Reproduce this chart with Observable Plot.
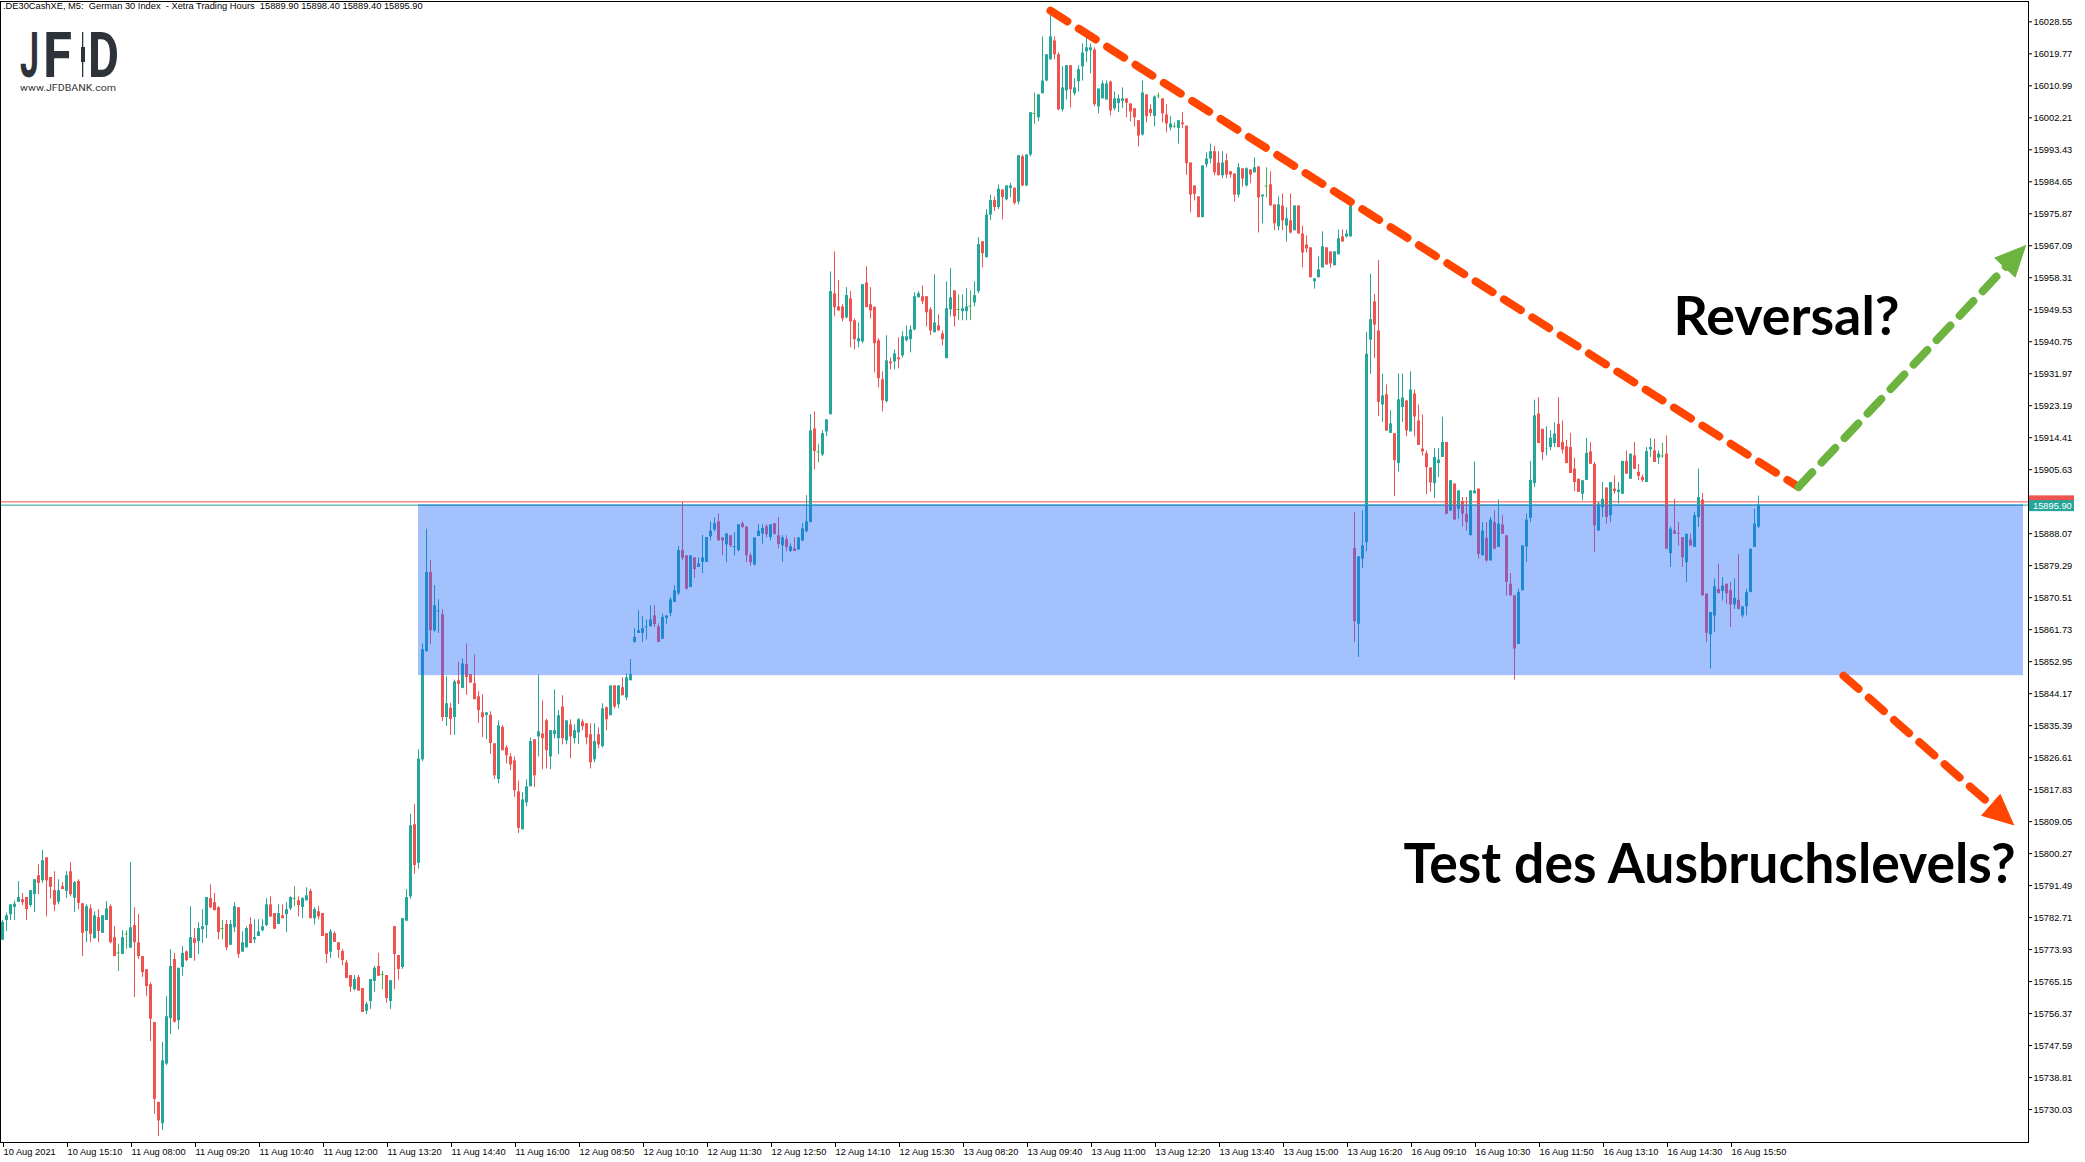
<!DOCTYPE html>
<html><head><meta charset="utf-8">
<script src="https://cdn.jsdelivr.net/npm/d3@7"></script>
<script src="https://cdn.jsdelivr.net/npm/@observablehq/plot@0.6"></script>
<style>
html,body{margin:0;padding:0;background:#fff;}
#wrap{position:relative;width:2085px;height:1162px;overflow:hidden;background:#fff;}
#hdr{position:absolute;left:3px;top:0px;font:9.3px "Liberation Sans",Arial,sans-serif;white-space:pre;color:#000;line-height:12px;}
#logo{position:absolute;left:0;top:0;}
</style></head><body><div id="wrap"></div>
<script>
// ---------- DATA (DE30 M5 candles, bar index 0..439) ----------
const opens = [
15776.5,15781.9,15783.5,15785.5,15786.9,15787.6,15788.2,15786.0,15789.0,15794.2,
15792.8,15799.1,15793.7,15790.1,15786.9,15791.2,15789.9,15795.3,15788.0,15792.6,
15786.5,15778.9,15785.1,15776.9,15782.7,15778.4,15781.9,15785.7,15777.2,15773.0,
15772.6,15778.2,15774.3,15780.5,15775.8,15772.0,15768.4,15764.3,15753.9,15732.0,
15726.1,15742.5,15755.0,15771.2,15754.4,15769.0,15773.3,15771.5,15776.9,15776.1,
15779.4,15780.5,15787.9,15786.8,15785.4,15779.7,15780.8,15775.1,15779.9,15785.4,
15773.2,15774.4,15780.8,15776.6,15777.5,15779.1,15780.5,15786.2,15783.8,15780.8,
15783.2,15783.5,15785.1,15787.9,15787.3,15785.5,15787.3,15789.9,15782.4,15784.3,
15783.8,15778.3,15773.2,15778.3,15775.8,15773.4,15770.3,15766.8,15762.9,15766.2,
15763.2,15757.0,15759.7,15765.2,15769.3,15767.1,15766.8,15759.7,15780.2,15772.3,
15769.0,15781.7,15788.4,15808.2,15797.6,15826.0,15855.7,15877.4,15861.4,15866.9,
15865.8,15837.6,15840.2,15837.6,15847.7,15845.6,15852.1,15849.4,15846.9,15843.3,
15838.9,15838.2,15838.2,15830.4,15820.6,15834.9,15829.3,15826.8,15825.7,15817.2,
15806.8,15814.2,15818.6,15831.5,15832.3,15833.1,15836.7,15826.8,15832.9,15831.8,
15840.5,15831.2,15835.6,15831.8,15833.4,15836.4,15835.9,15832.9,15826.0,15832.9,
15829.6,15840.3,15838.1,15846.3,15841.1,15845.8,15843.0,15847.7,15858.2,15860.7,
15860.7,15862.5,15862.5,15865.5,15862.5,15859.1,15864.8,15866.2,15869.2,15871.6,
15883.4,15882.0,15873.3,15881.4,15878.8,15880.2,15880.2,15887.2,15889.1,15891.3,
15886.9,15885.0,15887.5,15884.5,15883.4,15890.8,15889.9,15882.0,15879.5,15887.3,
15888.0,15890.0,15887.0,15890.8,15887.5,15884.7,15886.4,15883.2,15883.9,15883.6,
15886.1,15888.6,15891.1,15916.8,15910.5,15909.7,15916.0,15920.7,15953.9,15950.3,
15950.3,15947.3,15952.5,15946.5,15940.7,15940.7,15956.9,15950.9,15950.2,15941.0,
15930.3,15924.3,15935.2,15935.2,15936.3,15936.9,15941.0,15941.3,15944.0,15952.8,
15953.1,15953.1,15949.5,15943.2,15945.1,15942.9,15936.1,15949.5,15954.7,15949.6,
15949.0,15949.0,15950.5,15951.4,15954.5,15968.2,15963.8,15975.5,15979.5,15977.6,
15982.4,15979.7,15982.8,15982.9,15979.1,15991.5,15983.5,15992.0,16003.4,16002.2,
16008.8,16012.3,16018.1,16023.3,16019.5,16004.4,16009.6,16016.5,16008.8,16012.1,
16016.2,16020.3,16020.6,16020.8,16005.2,16007.4,16007.1,16012.0,16004.7,16006.1,
16006.7,16007.4,16006.0,16004.7,16001.4,15997.5,16008.5,16004.5,16002.6,16008.2,
16007.4,16003.0,15999.4,15999.9,15999.3,16000.8,15999.9,15989.8,15983.5,15980.5,
15974.8,15989.3,15990.9,15992.9,15989.8,15986.3,15990.4,15987.4,15986.8,15981.0,
15988.2,15983.5,15987.9,15987.1,15988.7,15980.5,15983.5,15983.8,15978.3,15972.3,
15978.0,15972.5,15973.9,15971.2,15978.0,15970.3,15967.3,15966.5,15957.2,15958.3,
15961.0,15966.5,15965.4,15961.6,15964.6,15969.5,15969.5,15969.5,15884.0,15863.2,
15881.1,15885.6,15941.2,15951.7,15943.7,15923.4,15926.2,15915.6,15915.5,15907.3,
15922.7,15924.5,15916.0,15926.4,15919.0,15911.3,15910.0,15906.1,15901.8,15907.3,
15909.0,15913.1,15894.3,15901.7,15894.8,15896.9,15893.4,15887.5,15899.0,15900.3,
15882.0,15886.8,15880.6,15891.1,15884.3,15890.4,15887.5,15874.2,15871.0,15857.7,
15872.4,15884.4,15892.3,15901.8,15920.9,15916.7,15911.2,15911.7,15912.8,15918.1,
15913.1,15911.9,15911.7,15905.8,15903.0,15898.9,15902.7,15910.5,15907.1,15888.8,
15895.2,15900.6,15893.0,15900.3,15899.4,15898.9,15907.9,15903.0,15909.4,15904.9,
15903.5,15902.1,15911.1,15910.8,15908.8,15909.4,15909.9,15882.6,15888.8,15888.1,
15887.0,15880.1,15886.3,15884.3,15892.5,15897.3,15871.5,15860.3,15865.5,15872.8,
15872.2,15874.2,15872.4,15868.5,15869.8,15865.5,15868.0,15871.9,15884.3,15889.9];

const highs = [
15781.9,15783.9,15786.2,15787.2,15792.6,15789.3,15788.2,15790.1,15793.1,15797.2,
15801.1,15799.1,15793.7,15795.3,15793.1,15792.3,15795.3,15797.8,15792.6,15793.1,
15786.5,15786.2,15786.2,15784.3,15784.9,15783.2,15787.1,15786.2,15780.2,15775.4,
15779.1,15779.1,15797.8,15785.4,15783.5,15772.0,15768.4,15764.8,15753.9,15732.0,
15748.5,15761.0,15773.9,15772.9,15768.8,15774.8,15773.6,15785.7,15779.7,15781.3,
15784.9,15788.2,15791.7,15789.3,15785.7,15781.9,15781.9,15781.9,15786.8,15785.4,
15778.8,15780.2,15782.7,15782.1,15782.1,15782.1,15787.9,15788.4,15783.8,15786.2,
15786.2,15786.8,15788.4,15791.2,15788.4,15788.2,15790.9,15790.4,15785.4,15785.7,
15783.8,15778.3,15779.4,15778.8,15775.8,15774.0,15771.0,15766.8,15766.8,15766.8,
15763.2,15759.4,15765.7,15769.3,15772.9,15767.9,15766.8,15765.4,15780.2,15772.3,
15782.4,15790.4,15811.1,15813.7,15828.8,15857.8,15889.3,15880.8,15873.8,15869.9,
15867.2,15848.8,15841.5,15847.9,15852.8,15853.7,15857.8,15849.4,15854.8,15844.7,
15843.8,15838.9,15839.2,15830.4,15836.7,15835.4,15829.9,15827.8,15826.8,15820.2,
15817.0,15820.5,15832.0,15831.5,15849.2,15842.2,15837.1,15834.0,15845.2,15839.5,
15843.6,15836.7,15837.0,15835.6,15837.3,15837.0,15835.9,15835.9,15835.9,15834.8,
15841.4,15840.5,15846.3,15846.3,15846.3,15848.5,15849.6,15853.5,15862.0,15866.9,
15865.3,15864.4,15868.3,15868.3,15863.3,15866.0,15865.5,15870.5,15873.8,15884.5,
15896.6,15882.0,15882.0,15881.4,15881.4,15887.6,15887.0,15891.3,15892.4,15893.5,
15886.9,15888.0,15887.5,15888.3,15890.5,15891.3,15889.9,15882.7,15886.9,15890.5,
15890.5,15890.5,15890.5,15890.8,15892.5,15887.5,15887.5,15885.3,15886.9,15886.9,
15890.8,15898.5,15920.7,15921.5,15912.6,15916.3,15919.3,15959.9,15965.4,15957.5,
15950.9,15955.6,15954.5,15947.0,15945.9,15956.4,15961.3,15955.6,15950.3,15941.6,
15932.5,15942.4,15936.3,15938.5,15941.8,15943.5,15945.1,15945.1,15954.2,15954.5,
15956.1,15953.1,15950.1,15959.1,15948.1,15943.7,15957.2,15960.8,15954.7,15953.6,
15953.6,15955.3,15954.7,15957.2,15969.3,15968.2,15977.0,15981.0,15980.5,15983.8,
15982.4,15983.5,15984.2,15982.9,15991.8,15992.0,15992.0,16003.6,16009.0,16008.5,
16024.4,16019.5,16031.6,16024.4,16020.0,16016.2,16016.5,16016.5,16012.9,16016.5,
16022.5,16024.4,16022.5,16021.4,16010.1,16012.3,16012.3,16012.3,16009.3,16008.5,
16010.4,16007.4,16006.0,16004.7,16001.4,16012.3,16008.5,16005.8,16008.2,16009.0,
16007.4,16005.8,16002.5,16000.8,16001.4,16003.6,15999.9,15989.8,15983.5,15980.5,
15989.0,15992.6,15995.0,15994.4,15992.9,15992.9,15992.3,15987.4,15986.8,15989.6,
15988.2,15988.5,15987.9,15991.2,15988.7,15981.0,15988.5,15987.4,15978.3,15980.5,
15981.3,15977.5,15981.3,15978.0,15978.0,15972.5,15969.8,15966.5,15958.0,15964.0,
15970.9,15966.5,15965.4,15965.4,15971.4,15971.4,15971.4,15978.3,15893.9,15881.7,
15894.3,15943.3,15959.3,15953.8,15963.0,15931.8,15928.9,15921.8,15915.5,15931.9,
15931.9,15924.5,15932.5,15927.5,15923.4,15920.6,15910.8,15906.1,15911.4,15911.4,
15920.0,15913.1,15902.6,15901.7,15899.8,15898.0,15898.0,15899.8,15907.8,15900.3,
15891.1,15891.1,15892.5,15894.3,15897.3,15893.0,15887.5,15877.1,15871.0,15872.8,
15884.7,15893.4,15907.9,15924.7,15925.4,15916.7,15917.4,15916.3,15918.5,15925.4,
15919.0,15913.7,15915.6,15908.8,15903.0,15902.6,15914.2,15913.1,15907.6,15896.6,
15902.1,15900.6,15902.1,15903.9,15902.1,15907.9,15910.8,15909.9,15913.1,15907.1,
15904.2,15911.7,15914.2,15914.0,15910.8,15912.9,15914.9,15889.9,15897.5,15891.1,
15887.0,15887.9,15887.9,15893.9,15905.8,15899.1,15871.5,15866.4,15875.6,15879.7,
15876.0,15874.2,15874.7,15875.6,15882.3,15868.0,15872.8,15883.8,15894.8,15898.4];

const lows = [
15776.4,15778.9,15781.9,15781.9,15786.9,15786.0,15781.9,15785.5,15784.1,15789.0,
15792.1,15782.9,15787.8,15784.3,15786.2,15790.4,15788.0,15788.4,15784.1,15784.9,
15772.0,15775.8,15775.8,15776.9,15775.8,15778.4,15781.9,15775.5,15772.0,15767.9,
15772.6,15774.0,15774.3,15760.8,15771.2,15766.3,15761.1,15748.7,15728.7,15722.6,
15724.3,15742.1,15750.6,15753.7,15751.9,15766.6,15770.6,15771.5,15770.7,15772.5,
15775.6,15776.9,15785.1,15784.6,15776.6,15776.6,15773.7,15775.1,15778.6,15771.5,
15773.2,15774.4,15775.6,15775.6,15777.5,15778.8,15780.2,15782.7,15779.5,15780.8,
15782.4,15778.6,15784.6,15785.7,15782.9,15782.4,15787.3,15782.4,15780.7,15782.1,
15777.5,15770.1,15771.5,15775.9,15771.5,15769.5,15766.0,15762.2,15762.6,15762.5,
15756.7,15756.1,15757.5,15762.2,15766.6,15762.9,15759.2,15757.5,15763.0,15765.5,
15768.5,15781.7,15787.7,15794.6,15796.0,15825.5,15855.5,15857.6,15861.0,15860.7,
15836.5,15835.2,15832.7,15832.7,15841.2,15845.5,15843.7,15846.9,15842.5,15836.0,
15832.1,15831.5,15827.5,15820.6,15819.4,15828.5,15824.9,15823.0,15815.7,15805.8,
15806.8,15813.1,15818.6,15818.4,15826.8,15823.3,15823.5,15823.3,15831.8,15827.4,
15830.1,15830.1,15826.3,15830.4,15830.2,15834.0,15830.1,15823.5,15825.2,15829.0,
15829.3,15834.0,15838.1,15840.0,15840.0,15843.6,15842.2,15847.7,15858.0,15860.7,
15858.2,15858.9,15862.5,15862.3,15858.2,15859.1,15863.2,15865.3,15869.2,15871.1,
15880.6,15872.7,15873.3,15875.8,15878.8,15877.1,15880.2,15886.1,15888.6,15886.1,
15882.0,15880.1,15884.2,15882.0,15883.1,15889.5,15880.1,15879.2,15879.2,15887.3,
15885.0,15886.9,15886.1,15887.7,15883.9,15880.2,15883.1,15882.9,15883.2,15883.4,
15885.8,15888.3,15891.1,15905.6,15907.5,15909.2,15914.7,15920.7,15947.6,15949.2,
15946.2,15947.0,15939.1,15938.5,15939.1,15940.2,15950.1,15947.0,15932.2,15928.1,
15921.5,15924.0,15933.0,15933.0,15933.3,15936.3,15940.7,15937.7,15943.7,15952.8,
15950.9,15944.8,15942.4,15943.2,15943.7,15939.6,15936.1,15947.6,15944.8,15946.5,
15946.5,15946.5,15946.5,15950.3,15953.9,15961.0,15963.8,15974.0,15976.5,15977.0,
15974.2,15979.4,15980.3,15978.3,15978.3,15983.3,15983.3,15991.5,16000.4,16001.1,
16008.8,16012.1,16018.1,16018.1,16004.1,16003.8,16007.1,16004.9,16008.2,16009.3,
16012.3,16017.3,16014.3,16005.2,16003.3,16007.4,16007.1,16002.7,16004.1,16003.6,
16004.7,16002.2,16001.1,15999.7,15994.2,15997.2,16000.8,16002.5,15999.7,16007.4,
16000.8,15998.1,15998.6,15999.2,15995.0,15999.2,15986.4,15976.1,15979.4,15974.8,
15974.8,15988.5,15989.6,15986.3,15986.3,15985.5,15985.5,15985.7,15979.1,15980.2,
15983.2,15983.2,15984.1,15987.1,15970.6,15973.1,15980.2,15978.0,15971.2,15971.2,
15971.2,15968.1,15970.3,15971.2,15970.3,15961.0,15965.1,15958.3,15955.2,15958.3,
15961.0,15961.8,15961.0,15961.6,15964.6,15968.1,15969.2,15969.5,15858.2,15854.1,
15878.5,15883.1,15931.8,15936.1,15920.2,15918.6,15916.2,15915.6,15898.2,15905.0,
15918.6,15914.7,15916.0,15914.6,15912.3,15909.4,15898.8,15899.5,15897.7,15903.5,
15909.0,15893.4,15894.1,15891.8,15892.0,15889.9,15888.8,15887.5,15899.0,15881.1,
15882.0,15880.2,15880.6,15883.8,15884.3,15887.9,15871.0,15871.0,15847.9,15857.7,
15872.4,15880.2,15891.1,15900.7,15912.8,15908.1,15909.4,15910.8,15911.7,15911.7,
15909.9,15907.3,15904.6,15899.6,15899.4,15897.1,15902.7,15907.1,15882.9,15888.8,
15892.5,15890.7,15891.1,15898.9,15896.2,15898.9,15904.4,15903.0,15905.7,15902.6,
15902.1,15902.1,15909.0,15907.6,15907.1,15908.8,15883.8,15878.8,15887.9,15884.7,
15878.8,15874.7,15884.7,15884.3,15889.8,15871.0,15858.2,15850.9,15860.9,15871.6,
15869.6,15868.7,15862.3,15867.3,15867.1,15864.9,15865.5,15871.9,15884.3,15889.4];

const closes = [
15781.4,15783.2,15786.2,15786.4,15788.2,15786.8,15784.9,15790.1,15793.1,15792.1,
15798.3,15792.8,15791.0,15786.1,15790.1,15790.4,15794.2,15789.0,15792.3,15786.6,
15778.4,15785.7,15778.1,15783.2,15778.9,15783.2,15785.1,15775.8,15772.0,15773.0,
15777.2,15778.2,15779.9,15775.8,15772.0,15767.6,15763.8,15754.8,15732.8,15726.9,
15743.4,15755.5,15769.3,15754.0,15768.8,15772.9,15770.9,15777.2,15775.6,15779.7,
15780.2,15788.2,15785.4,15784.6,15778.6,15779.7,15774.4,15780.8,15785.7,15772.6,
15775.8,15779.7,15775.6,15777.2,15778.8,15780.2,15786.2,15782.9,15779.5,15783.8,
15782.4,15784.9,15788.2,15787.9,15786.0,15787.9,15788.7,15782.4,15784.9,15782.9,
15777.5,15772.6,15778.8,15775.9,15773.7,15770.9,15766.0,15763.6,15765.7,15762.5,
15756.7,15758.9,15765.7,15768.8,15766.6,15767.1,15760.5,15765.4,15772.6,15768.5,
15782.4,15788.2,15807.9,15797.0,15826.2,15856.2,15877.4,15861.4,15868.3,15866.9,
15837.6,15841.4,15837.1,15847.4,15846.7,15852.3,15848.6,15847.1,15842.5,15839.5,
15837.6,15838.9,15830.5,15821.6,15835.3,15828.5,15827.1,15824.6,15817.5,15807.2,
15815.0,15818.6,15831.0,15821.6,15833.7,15831.8,15828.5,15834.0,15834.0,15838.1,
15831.8,15836.7,15832.3,15834.0,15837.0,15835.1,15832.0,15825.2,15831.0,15830.1,
15840.0,15837.0,15846.3,15840.5,15846.3,15843.6,15848.5,15849.4,15859.6,15861.4,
15862.0,15862.5,15864.4,15863.1,15858.2,15865.1,15865.5,15869.9,15872.4,15883.4,
15881.3,15872.8,15882.0,15878.2,15879.8,15881.4,15887.0,15888.8,15890.8,15886.1,
15886.1,15888.0,15884.7,15884.5,15890.5,15889.8,15882.0,15880.1,15886.9,15888.8,
15889.5,15887.8,15890.5,15887.9,15885.1,15886.9,15884.3,15884.5,15883.2,15886.9,
15889.4,15891.3,15916.3,15910.6,15910.5,15915.5,15919.3,15954.5,15950.1,15949.2,
15947.0,15953.4,15946.2,15941.3,15941.6,15956.4,15950.1,15949.2,15940.2,15930.6,
15924.5,15935.5,15934.7,15937.4,15935.8,15942.1,15942.1,15944.0,15953.1,15953.9,
15951.7,15948.7,15943.7,15945.9,15943.7,15941.3,15949.8,15952.8,15947.6,15949.6,
15949.8,15950.3,15950.5,15953.4,15967.4,15964.9,15975.5,15979.5,15977.6,15982.6,
15980.3,15983.5,15983.5,15978.7,15991.8,15983.5,15992.0,16003.6,16003.4,16008.5,
16012.3,16019.5,16024.4,16019.5,16004.4,16010.4,16016.5,16009.9,16010.4,16015.4,
16020.0,16021.4,16021.4,16005.8,16010.1,16011.5,16011.5,16004.1,16007.4,16007.4,
16007.4,16006.2,16003.8,16002.2,15997.2,16009.0,16002.5,16003.4,16007.9,16008.2,
16003.3,16000.5,16000.5,15999.9,16001.4,16000.3,15989.6,15981.0,15981.2,15974.8,
15989.0,15990.9,15992.9,15987.1,15986.3,15989.8,15986.5,15986.5,15981.0,15988.5,
15985.4,15988.2,15986.5,15988.5,15980.2,15981.0,15983.5,15978.0,15973.1,15978.3,
15973.9,15974.5,15970.6,15978.0,15970.3,15965.1,15966.2,15958.3,15958.0,15960.5,
15966.8,15961.8,15962.1,15965.4,15969.0,15968.1,15970.3,15978.0,15863.9,15881.7,
15884.7,15937.3,15946.8,15945.3,15924.1,15925.9,15916.2,15918.2,15908.1,15924.8,
15925.3,15916.3,15927.5,15920.1,15912.3,15910.5,15906.2,15902.0,15909.0,15908.3,
15913.1,15893.4,15902.6,15891.8,15899.8,15893.4,15891.1,15899.8,15899.8,15882.4,
15888.8,15880.6,15891.8,15883.8,15890.7,15887.9,15874.7,15871.0,15856.4,15871.9,
15884.7,15891.8,15902.7,15920.4,15912.8,15910.3,15911.3,15914.3,15915.4,15911.7,
15911.0,15907.3,15904.6,15902.1,15899.4,15902.6,15910.1,15907.1,15890.2,15896.2,
15897.5,15892.5,15902.1,15899.6,15900.0,15907.9,15904.4,15909.9,15905.7,15903.8,
15902.6,15910.6,15911.7,15907.6,15909.9,15909.4,15883.8,15889.3,15887.9,15887.9,
15881.5,15887.9,15884.7,15893.0,15898.0,15871.0,15860.7,15866.4,15873.5,15871.6,
15873.7,15871.6,15868.5,15870.3,15867.3,15868.0,15871.9,15883.8,15890.7,15895.9];

// price-axis tick values
const yTicks = [15730.03,15738.81,15747.59,15756.37,15765.15,15773.93,15782.71,15791.49,15800.27,
15809.05,15817.83,15826.61,15835.39,15844.17,15852.95,15861.73,15870.51,15879.29,15888.07,
15905.63,15914.41,15923.19,15931.97,15940.75,15949.53,15958.31,15967.09,15975.87,15984.65,
15993.43,16002.21,16010.99,16019.77,16028.55];
// time-axis ticks (bar index) and labels
const xTickBars = [0,16,32,48,64,80,96,112,128,144,160,176,192,208,224,240,256,272,288,304,320,336,352,368,384,400,416,432];
const xTickLabels = ["10 Aug 2021","10 Aug 15:10","11 Aug 08:00","11 Aug 09:20","11 Aug 10:40","11 Aug 12:00",
"11 Aug 13:20","11 Aug 14:40","11 Aug 16:00","12 Aug 08:50","12 Aug 10:10","12 Aug 11:30","12 Aug 12:50",
"12 Aug 14:10","12 Aug 15:30","13 Aug 08:20","13 Aug 09:40","13 Aug 11:00","13 Aug 12:20","13 Aug 13:40",
"13 Aug 15:00","13 Aug 16:20","16 Aug 09:10","16 Aug 10:30","16 Aug 11:50","16 Aug 13:10","16 Aug 14:30","16 Aug 15:50"];

// breakout zone (bar index range, price range), bid/ask
const zone = {start: 104, end: 505.25, bottom: 15849.1, top: 15895.9};
const bidPrice = 15895.9, askPrice = 15896.8;
// annotation anchors (bar index, price)
const trendLine = [{i: 262, p: 16031.6}, {i: 449, p: 15900.9}];
const upArrow = [{i: 449, p: 15900.9}, {i: 505.75, p: 15967.1}];
const downArrow = [{i: 460.25, p: 15849.1}, {i: 502.75, p: 15808.2}];
const notes = [
  {text: "Reversal?", i: 417.75, p: 15947.4},
  {text: "Test des Ausbruchslevels?", i: 503.25, p: 15797.1}
];

// ---------- LAYOUT ----------
const W = 2085, H = 1162, mL = 0, mR = 57, mT = 1, mB = 20;
const xDom = [-0.5, 506.5], yDom = [15720.98, 16034.12];
const xS = d3.scaleLinear(xDom, [mL, W - mR]);
const yS = d3.scaleLinear(yDom, [H - mB, mT]);
const C = {up: "#26a69a", down: "#ef5350", doji: "#4caf50", upZ: "#1e88d0", downZ: "#9b59a6", dojiZ: "#1e88d0",
  zone: "#a3c1fd", orange: "#ff4500", green: "#6db33f"};

const bars = opens.map((o, i) => ({i, o, h: highs[i], l: lows[i], c: closes[i],
  kind: closes[i] > o ? "up" : closes[i] < o ? "down" : "doji"}));

function parts(i, lo, hi) {
  if (i <= zone.start) return [{y1: lo, y2: hi, z: false}];
  const out = [];
  if (lo < zone.bottom) out.push({y1: lo, y2: Math.min(hi, zone.bottom), z: false});
  const a = Math.max(lo, zone.bottom), b = Math.min(hi, zone.top);
  if (b > a) out.push({y1: a, y2: b, z: true});
  if (hi > zone.top) out.push({y1: Math.max(lo, zone.top), y2: hi, z: false});
  return out;
}
const colorOf = (kind, z) => C[kind + (z ? "Z" : "")];
const wickSegs = [], bodySegs = [], dojis = [];
for (const b of bars) {
  for (const s of parts(b.i, b.l, b.h)) wickSegs.push({i: b.i, y1: s.y1, y2: s.y2, color: colorOf(b.kind, s.z)});
  if (b.kind === "doji") {
    const z = b.i > zone.start && b.c >= zone.bottom && b.c <= zone.top;
    dojis.push({i: b.i, c: b.c, color: colorOf("doji", z)});
  } else {
    for (const s of parts(b.i, Math.min(b.o, b.c), Math.max(b.o, b.c)))
      bodySegs.push({i: b.i, y1: s.y1, y2: s.y2, color: colorOf(b.kind, s.z)});
  }
}

function arrowParts(pts, headLen, headHalf) {
  const [a, b] = pts;
  const ax = xS(a.i), ay = yS(a.p), bx = xS(b.i), by = yS(b.p);
  const L = Math.hypot(bx - ax, by - ay), ux = (bx - ax) / L, uy = (by - ay) / L;
  const baseX = bx - ux * headLen, baseY = by - uy * headLen;
  const shaft = [{i: a.i, p: a.p}, {i: xS.invert(baseX + ux * 2), p: yS.invert(baseY + uy * 2)}];
  const head = [[bx, by], [baseX - uy * headHalf, baseY + ux * headHalf], [baseX + uy * headHalf, baseY - ux * headHalf], [bx, by]]
    .map(([x, y]) => ({i: xS.invert(x), p: yS.invert(y)}));
  return {shaft, head};
}
const upA = arrowParts(upArrow, 30, 14);
const dnA = arrowParts(downArrow, 30, 14);
const dash = "20,13.6";
const noteFont = "Lato, 'Open Sans', sans-serif";

const marks = [
  Plot.rect([zone], {x1: "start", x2: "end", y1: "bottom", y2: "top", fill: C.zone}),
  Plot.ruleY([askPrice], {y: d => d, stroke: C.down, strokeWidth: 1}),
  Plot.ruleY([bidPrice], {y: d => d, stroke: C.up, strokeWidth: 1}),
  Plot.ruleY([bidPrice], {y: d => d, x1: () => zone.start, x2: () => zone.end, stroke: C.upZ, strokeWidth: 1}),
  Plot.ruleX(wickSegs, {x: "i", y1: "y1", y2: "y2", stroke: "color", strokeWidth: 1}),
  Plot.ruleX(bodySegs, {x: "i", y1: "y1", y2: "y2", stroke: "color", strokeWidth: 3}),
  Plot.ruleY(dojis, {x1: d => d.i - 0.375, x2: d => d.i + 0.375, y: "c", stroke: "color", strokeWidth: 1}),
  Plot.line(trendLine, {x: "i", y: "p", stroke: C.orange, strokeWidth: 8, strokeDasharray: dash, curve: "linear"}),
  Plot.line(upA.shaft, {x: "i", y: "p", stroke: C.green, strokeWidth: 8, strokeDasharray: dash}),
  Plot.line(upA.head, {x: "i", y: "p", stroke: C.green, fill: C.green, strokeWidth: 1}),
  Plot.line(dnA.shaft, {x: "i", y: "p", stroke: C.orange, strokeWidth: 8, strokeDasharray: dash}),
  Plot.line(dnA.head, {x: "i", y: "p", stroke: C.orange, fill: C.orange, strokeWidth: 1}),
  Plot.text([notes[0]], {x: "i", y: "p", text: "text", textAnchor: "start", lineAnchor: "middle",
    fontSize: 54, fontFamily: noteFont, fontWeight: "bold", fill: "#000"}),
  Plot.text([notes[1]], {x: "i", y: "p", text: "text", textAnchor: "end", lineAnchor: "middle",
    fontSize: 54.5, fontFamily: noteFont, fontWeight: "bold", fill: "#000"}),
  Plot.axisY(yTicks, {anchor: "right", tickSize: 3, tickPadding: 2, tickFormat: d => d.toFixed(2), label: null}),
  Plot.axisX(xTickBars, {anchor: "bottom", tickSize: 5, tickPadding: 1, textAnchor: "start", dx: 1,
    tickFormat: d => xTickLabels[xTickBars.indexOf(d)], label: null}),
  Plot.frame({stroke: "#000"})
];

const chart = Plot.plot({
  width: W, height: H, marginLeft: mL, marginRight: mR, marginTop: mT, marginBottom: mB,
  x: {type: "linear", domain: xDom, label: null},
  y: {type: "linear", domain: yDom, label: null},
  color: {type: "identity"},
  style: {fontFamily: "'Liberation Sans', Arial, sans-serif", fontSize: "9.3px", background: "#fff", color: "#000", overflow: "visible"},
  marks
});

// fit note widths like the reference
const noteWidths = {"Reversal?": 226, "Test des Ausbruchslevels?": 612};
chart.querySelectorAll("text").forEach(t => {
  const w = noteWidths[t.textContent];
  if (w) { t.setAttribute("textLength", w); t.setAttribute("lengthAdjust", "spacingAndGlyphs"); }
});

// current price labels on the price axis
const svg = d3.select(chart);
const yScale = chart.scale("y");
const ya = yScale.apply(askPrice), yb = yScale.apply(bidPrice);
svg.append("rect").attr("x", 2029).attr("y", ya - 6).attr("width", 45).attr("height", 12).attr("fill", C.down);
svg.append("rect").attr("x", 2029).attr("y", yb - 4.5).attr("width", 45).attr("height", 11).attr("fill", C.up);
svg.append("text").attr("x", 2033).attr("y", yb + 4).attr("fill", "#fff").attr("text-anchor", "start")
  .attr("font-family", "'Liberation Sans', Arial, sans-serif").attr("font-size", "9.3px").text(bidPrice.toFixed(2));

const wrap = document.getElementById("wrap");
wrap.appendChild(chart);

// header line
const hdr = document.createElement("div");
hdr.id = "hdr";
hdr.textContent = ".DE30CashXE, M5:  German 30 Index  - Xetra Trading Hours  " +
  [opens[439], highs[439], lows[439], closes[439]].map(v => v.toFixed(2)).join(" ");
wrap.appendChild(hdr);

// JFD logo (one text element for the letters, candle glyph between F and D)
const logo = document.createElementNS("http://www.w3.org/2000/svg", "svg");
logo.setAttribute("id", "logo"); logo.setAttribute("width", 140); logo.setAttribute("height", 100);
logo.innerHTML = `
<g fill="#2d3339" font-family="Roboto, 'DejaVu Sans', sans-serif" font-weight="bold">
<text y="77" font-size="63"><tspan x="20" textLength="19" lengthAdjust="spacingAndGlyphs">J</tspan><tspan x="43" textLength="29" lengthAdjust="spacingAndGlyphs">F</tspan><tspan x="88" textLength="31" lengthAdjust="spacingAndGlyphs">D</tspan></text>
<rect x="82" y="32" width="1.3" height="45"/>
<rect x="81" y="47" width="4" height="15"/>
<text x="20" y="91" font-size="9" font-weight="normal" fill="#333" textLength="96" lengthAdjust="spacingAndGlyphs">www.JFDBANK.com</text>
</g>`;
wrap.appendChild(logo);
</script></body></html>
